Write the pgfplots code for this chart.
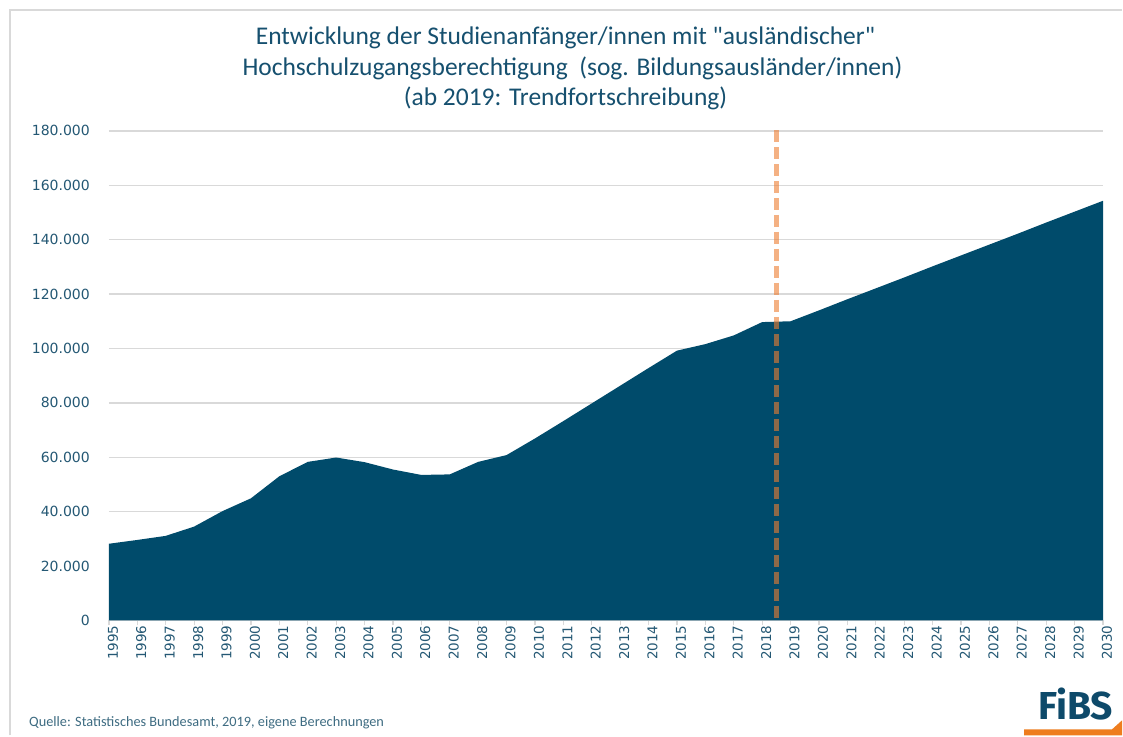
\documentclass[border=0pt]{standalone}
\usepackage{pgfplots}
\pgfplotsset{compat=1.18}
\usepackage{fontspec}
\setmainfont{Carlito}
\newfontfamily\titlefont{Carlito}
\newfontfamily\tickfont{DejaVu Sans}
\newfontfamily\logofont{Fira Sans}
\definecolor{fillc}{HTML}{004B6B}
\definecolor{titlec}{HTML}{16506F}
\definecolor{tickc}{HTML}{245874}
\definecolor{gridc}{HTML}{D9D9D9}
\definecolor{dashc}{HTML}{ED7D31}
\definecolor{logoc}{HTML}{0E4A6A}
\definecolor{logoo}{HTML}{EE7D1E}
\definecolor{srcc}{HTML}{3E6C82}
\begin{document}
\begin{tikzpicture}[x=1pt,y=1pt]
\fill[white] (0,0) rectangle (1123,736);
\draw[gridc, line width=2pt] (10,0) -- (10,726) -- (1123,726);
\begin{axis}[
  at={(109pt,115pt)}, anchor=south west,
  scale only axis, width=995pt, height=490pt,
  xmin=1995, xmax=2030, ymin=0, ymax=180000,
  xtick={1995,1996,...,2030},
  xticklabels={1995,1996,1997,1998,1999,2000,2001,2002,2003,2004,2005,2006,2007,2008,2009,2010,2011,2012,2013,2014,2015,2016,2017,2018,2019,2020,2021,2022,2023,2024,2025,2026,2027,2028,2029,2030},
  ytick={0,20000,40000,60000,80000,100000,120000,140000,160000,180000},
  yticklabels={0,20.000,40.000,60.000,80.000,100.000,120.000,140.000,160.000,180.000},
  scaled y ticks=false,
  axis x line*=bottom, axis y line*=left,
  y axis line style={draw=none},
  x axis line style={draw=gridc, line width=1.5pt},
  ymajorgrids, grid style={gridc, line width=1.3pt},
  tick align=outside,
  xtick style={draw=gridc, line width=1.2pt},
  major tick length=5pt,
  ytick style={draw=none},
  ticklabel style={font=\tickfont\fontsize{14}{14}\selectfont, text=tickc},
  yticklabel style={inner sep=0pt, anchor=east, xshift=-14pt},
  xticklabel style={font=\tickfont\fontsize{13.5}{13.5}\selectfont, rotate=90, inner sep=0pt, anchor=east, yshift=-4pt},
  clip=false,
]
\addplot[fill=fillc, draw=none] coordinates {
(1995,28200) (1996,29600) (1997,31100) (1998,34500) (1999,40200)
(2000,44900) (2001,53000) (2002,58300) (2003,59900) (2004,58200)
(2005,55500) (2006,53500) (2007,53700) (2008,58300) (2009,60800)
(2010,66900) (2011,73300) (2012,79800) (2013,86300) (2014,92800)
(2015,99200) (2016,101600) (2017,104800) (2018,109700) (2019,110000)
(2020,114000) (2021,118100) (2022,122100) (2023,126100) (2024,130200)
(2025,134200) (2026,138200) (2027,142200) (2028,146300) (2029,150300)
(2030,154300)
} \closedcycle;
\addplot[draw=dashc, draw opacity=0.6, line width=4.5pt, dash pattern=on 12pt off 5pt] coordinates {(2018.5,180300) (2018.5,0)};
\end{axis}
\begin{scope}[every node/.style={text=titlec, anchor=base, inner sep=0pt, font=\titlefont\fontsize{25.5}{30}\selectfont}]
\node at (566,691) {Entwicklung der Studienanf\"anger/innen mit "ausl\"andischer"};
\node at (573,660) {Hochschulzugangsberechtigung~ (sog. Bildungsausl\"ander/innen)};
\node at (566,630) {(ab 2019: Trendfortschreibung)};
\end{scope}
\node[text=srcc, anchor=base west, inner sep=0pt, font=\fontsize{14.3}{14.3}\selectfont] at (29,9) {Quelle: Statistisches Bundesamt, 2019, eigene Berechnungen};
\node[text=logoc, anchor=base east, inner sep=0pt, font=\logofont\bfseries\fontsize{39}{39}\selectfont] at (1114,16) {FiBS};
\fill[logoo] (1025,0) -- (1025,6) -- (1113,6) -- (1123,15) -- (1123,0) -- cycle;
\end{tikzpicture}
\end{document}
